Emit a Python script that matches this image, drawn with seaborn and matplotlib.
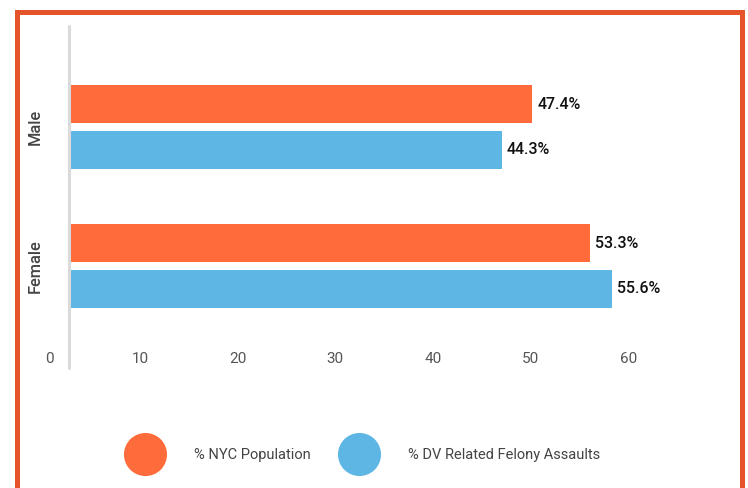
import matplotlib
import pandas as pd
import seaborn as sns
from matplotlib import pyplot as plt
from matplotlib.lines import Line2D
from matplotlib.patches import Rectangle
from matplotlib.transforms import ScaledTranslation

genders = ['Male', 'Female']
series = ['% NYC Population', '% DV Related Felony Assaults']
nyc_population = [47.4, 53.3]
dv_assaults = [44.3, 55.6]
x_ticks = [0, 10, 20, 30, 40, 50, 60]

ORANGE = '#FF6B3A'
BLUE = '#5EB6E4'
BORDER = '#E5532A'

df = pd.DataFrame({
    'gender': genders * 2,
    'series': [series[0]] * 2 + [series[1]] * 2,
    'value': nyc_population + dv_assaults,
})

sns.set_style('white')
matplotlib.rcParams['font.family'] = ['Roboto', 'DejaVu Sans']

W, H = 748, 488
fig = plt.figure(figsize=(W / 100, H / 100), dpi=100)

# axes in pixel terms: x 70 -> 704, y 26 -> 345
ax = fig.add_axes([69.5 / W, 1 - 345 / H, (704 - 69.5) / W, (345 - 26) / H])

sns.barplot(
    data=df, y='gender', x='value', hue='series', orient='h',
    palette=[ORANGE, BLUE], width=0.66, gap=0.17, saturation=1,
    linewidth=0, legend=False, ax=ax,
)

ax.set_xlim(0, 65)
ax.set_ylim(1 + (345 - 266) / 139, -(127 - 26) / 139)
ax.set_xlabel('')
ax.set_ylabel('')

for c in ax.containers:
    ax.bar_label(c, fmt='{:.1f}%', padding=3.6, fontsize=11.5,
                 fontweight='medium', color='#111111')

ax.set_xticks(x_ticks)
ax.set_xticklabels([str(t) for t in x_ticks])
ax.tick_params(axis='x', length=0, pad=5, labelsize=11, labelcolor='#555555')
ax.tick_params(axis='y', length=0, pad=19.5, labelsize=11.8, labelcolor='#444444')
for lab in ax.get_yticklabels():
    lab.set_rotation(90)
    lab.set_va('center')
    lab.set_fontweight('medium')

# shift x tick labels left like the original
for t, lab in zip(x_ticks, ax.get_xticklabels()):
    dx = -20.5 if t == 0 else -27
    lab.set_transform(lab.get_transform() + ScaledTranslation(dx / 100, 0, fig.dpi_scale_trans))

sns.despine(ax=ax, left=True, bottom=True, top=True, right=True)

# grey vertical axis line
fig.add_artist(Line2D([68.5 / W, 68.5 / W], [1 - 26 / H, 1 - 368 / H],
                      transform=fig.transFigure, color='#DADADA', lw=2.2))

# orange frame (open at the bottom)
fig.add_artist(Rectangle((16.5 / W, -0.1), (741.8 - 16.5) / W, (H - 12.5) / H + 0.1,
                         transform=fig.transFigure, fill=False,
                         edgecolor=BORDER, lw=3.6))

handles = [
    Line2D([], [], marker='o', ls='', markersize=30, markerfacecolor=c, markeredgecolor=c)
    for c in [ORANGE, BLUE]
]
fig.legend(handles, series, loc='center', bbox_to_anchor=(361.5 / W, 1 - 455 / H),
           ncol=2, frameon=False, fontsize=10.5, handlelength=3, handletextpad=1.85,
           columnspacing=1.85, borderpad=0, labelcolor='#444444')

plt.savefig('out.png', dpi=100)
